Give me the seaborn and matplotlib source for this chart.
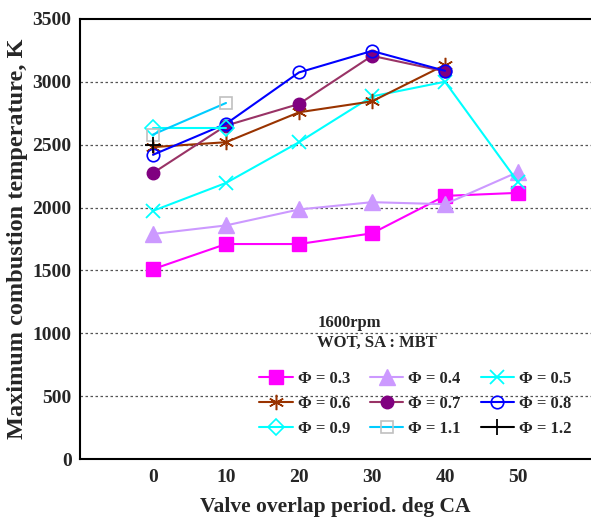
import numpy as np
import pandas as pd
import matplotlib
matplotlib.use("Agg")
import matplotlib.pyplot as plt
import seaborn as sns

overlap = [0, 10, 20, 30, 40, 50]
phi_03 = [1510, 1710, 1710, 1795, 2093, 2117]
phi_04 = [1790, 1858, 1985, 2043, 2027, 2283]
phi_05 = [1974, 2196, 2520, 2884, 3001, 2203]
phi_06 = [2481, 2520, 2758, 2845, 3135]
phi_07 = [2275, 2652, 2824, 3207, 3083]
phi_08 = [2420, 2666, 3075, 3246, 3088]
phi_09 = [2634, 2634]
phi_11 = [2581, 2832]
phi_12 = [2494]
labels = ["Φ = 0.3", "Φ = 0.4", "Φ = 0.5", "Φ = 0.6", "Φ = 0.7",
          "Φ = 0.8", "Φ = 0.9", "Φ = 1.1", "Φ = 1.2"]
series = [phi_03, phi_04, phi_05, phi_06, phi_07, phi_08, phi_09, phi_11, phi_12]

styles = [
    dict(color="#FF00FF", marker="s", ms=10, mfc="#FF00FF", mec="#FF00FF"),
    dict(color="#CC99FF", marker="^", ms=11, mfc="#CC99FF", mec="#CC99FF"),
    dict(color="#00FFFF", marker="x", ms=10, mfc="none", mec="#00FFFF", mew=1.3),
    dict(color="#993300", marker=(6, 2, 0), ms=11, mfc="none", mec="#993300", mew=1.1),
    dict(color="#993366", marker="o", ms=9, mfc="#800080", mec="#800080"),
    dict(color="#0000FF", marker="o", ms=9, mfc="none", mec="#0000FF", mew=1.2),
    dict(color="#00FFFF", marker="D", ms=8, mfc="none", mec="#00FFFF", mew=1.2),
    dict(color="#00CCFF", marker="s", ms=8, mfc="none", mec="#C0C0C0", mew=1.2),
    dict(color="#000000", marker="+", ms=12, mfc="none", mec="#000000", mew=1.3),
]

rows = []
for lab, vals in zip(labels, series):
    for x, v in zip(overlap, vals):
        rows.append(dict(overlap=x, temp=v, phi=lab))
df = pd.DataFrame(rows)

sns.set_style("white")
plt.rcParams["font.family"] = ["Liberation Serif", "DejaVu Serif"]
plt.rcParams["font.weight"] = "bold"

fig = plt.figure(figsize=(5.91, 5.21), dpi=100)
ax = fig.add_axes([80 / 591, 1 - 459 / 521, 1 - 80 / 591, (459 - 19) / 521])

handles = []
for lab, st in zip(labels, styles):
    sub = df[df["phi"] == lab]
    sns.lineplot(data=sub, x="overlap", y="temp", ax=ax, color=st["color"],
                 marker=st["marker"], markersize=st["ms"],
                 markerfacecolor=st["mfc"], markeredgecolor=st["mec"],
                 markeredgewidth=st.get("mew", 1.0), linewidth=1.5,
                 label=lab, legend=False, errorbar=None)
    h, = ax.plot([], [], color=st["color"], marker=st["marker"], markersize=st["ms"],
                 markerfacecolor=st["mfc"], markeredgecolor=st["mec"],
                 markeredgewidth=st.get("mew", 1.0), linewidth=1.5)
    handles.append(h)

ax.set_xlim(-10, 60)
ax.set_ylim(0, 3500)
ax.set_xticks([0, 10, 20, 30, 40, 50])
ax.set_yticks(np.arange(0, 3501, 500))
for yv in range(500, 3001, 500):
    ax.axhline(yv, color="#555555", linestyle=(0, (2, 2)), linewidth=0.9, zorder=0)

ax.tick_params(axis="x", direction="in", length=5, width=0.8, labelsize=14, pad=7)
ax.tick_params(axis="y", length=0, labelsize=14, pad=6)
for lbl in ax.get_xticklabels() + ax.get_yticklabels():
    lbl.set_fontweight("bold")

for s in ["left", "bottom", "top"]:
    ax.spines[s].set_visible(True)
    ax.spines[s].set_color("black")
    ax.spines[s].set_linewidth(1.5)
ax.spines["right"].set_visible(False)

ax.set_xlabel("Valve overlap period. deg CA", fontsize=15.5, fontweight="bold", labelpad=8)
ax.set_ylabel("Maximum combustion temperature, K", fontsize=17.5, fontweight="bold", labelpad=3)

ax.text(22.5, 1082, "1600rpm", fontsize=12, fontweight="bold", va="center")
ax.text(22.5, 923, "WOT, SA : MBT", fontsize=12, fontweight="bold", va="center")

order = [0, 3, 6, 1, 4, 7, 2, 5, 8]
leg = ax.legend([handles[i] for i in order], [labels[i] for i in order], ncol=3,
                loc="lower right", bbox_to_anchor=(0.975, 0.035), borderaxespad=0,
                frameon=False, fontsize=12, handlelength=2.0, columnspacing=1.2,
                handletextpad=0.3, labelspacing=0.55)
for t in leg.get_texts():
    t.set_fontweight("bold")

fig.savefig("out.png", dpi=100)
